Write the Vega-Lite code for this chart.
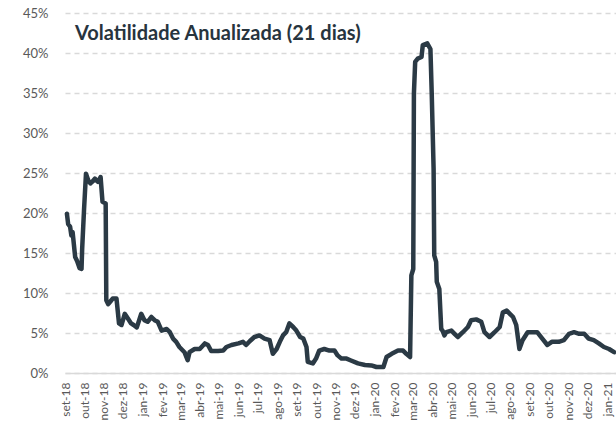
{
  "$schema": "https://vega.github.io/schema/vega-lite/v6.json",
  "autosize": "none",
  "width": 551,
  "height": 360,
  "padding": {"left": 65, "top": 13, "right": 0, "bottom": 50},
  "title": {"text": "Volatilidade Anualizada (21 dias)", "anchor": "start", "frame": "group", "offset": -37, "dx": 10, "font": "Lato", "fontSize": 20, "fontWeight": "bold", "color": "#27343E"},
  "config": {"view": {"stroke": null}},
  "data": {"values": [
    {"date": "2018-09-04", "vol": 0.199},
    {"date": "2018-09-06", "vol": 0.186},
    {"date": "2018-09-09", "vol": 0.183},
    {"date": "2018-09-11", "vol": 0.172},
    {"date": "2018-09-13", "vol": 0.176},
    {"date": "2018-09-17", "vol": 0.145},
    {"date": "2018-09-20", "vol": 0.140},
    {"date": "2018-09-24", "vol": 0.131},
    {"date": "2018-09-27", "vol": 0.130},
    {"date": "2018-09-28", "vol": 0.155},
    {"date": "2018-10-01", "vol": 0.205},
    {"date": "2018-10-04", "vol": 0.249},
    {"date": "2018-10-08", "vol": 0.240},
    {"date": "2018-10-11", "vol": 0.237},
    {"date": "2018-10-15", "vol": 0.240},
    {"date": "2018-10-18", "vol": 0.243},
    {"date": "2018-10-23", "vol": 0.239},
    {"date": "2018-10-27", "vol": 0.245},
    {"date": "2018-10-30", "vol": 0.214},
    {"date": "2018-11-04", "vol": 0.212},
    {"date": "2018-11-05", "vol": 0.091},
    {"date": "2018-11-08", "vol": 0.086},
    {"date": "2018-11-12", "vol": 0.090},
    {"date": "2018-11-15", "vol": 0.093},
    {"date": "2018-11-21", "vol": 0.093},
    {"date": "2018-11-25", "vol": 0.062},
    {"date": "2018-11-29", "vol": 0.060},
    {"date": "2018-12-04", "vol": 0.074},
    {"date": "2018-12-09", "vol": 0.068},
    {"date": "2018-12-14", "vol": 0.062},
    {"date": "2018-12-18", "vol": 0.060},
    {"date": "2018-12-23", "vol": 0.057},
    {"date": "2018-12-30", "vol": 0.074},
    {"date": "2019-01-04", "vol": 0.066},
    {"date": "2019-01-09", "vol": 0.064},
    {"date": "2019-01-15", "vol": 0.070},
    {"date": "2019-01-20", "vol": 0.066},
    {"date": "2019-01-25", "vol": 0.064},
    {"date": "2019-01-31", "vol": 0.053},
    {"date": "2019-02-08", "vol": 0.055},
    {"date": "2019-02-13", "vol": 0.051},
    {"date": "2019-02-18", "vol": 0.043},
    {"date": "2019-02-23", "vol": 0.039},
    {"date": "2019-02-28", "vol": 0.0325},
    {"date": "2019-03-08", "vol": 0.026},
    {"date": "2019-03-13", "vol": 0.016},
    {"date": "2019-03-16", "vol": 0.026},
    {"date": "2019-03-24", "vol": 0.030},
    {"date": "2019-04-01", "vol": 0.030},
    {"date": "2019-04-09", "vol": 0.037},
    {"date": "2019-04-14", "vol": 0.035},
    {"date": "2019-04-19", "vol": 0.0275},
    {"date": "2019-04-30", "vol": 0.0275},
    {"date": "2019-05-08", "vol": 0.028},
    {"date": "2019-05-13", "vol": 0.0325},
    {"date": "2019-05-21", "vol": 0.035},
    {"date": "2019-06-01", "vol": 0.037},
    {"date": "2019-06-08", "vol": 0.039},
    {"date": "2019-06-13", "vol": 0.035},
    {"date": "2019-06-19", "vol": 0.040},
    {"date": "2019-06-26", "vol": 0.045},
    {"date": "2019-07-04", "vol": 0.047},
    {"date": "2019-07-12", "vol": 0.043},
    {"date": "2019-07-20", "vol": 0.041},
    {"date": "2019-07-25", "vol": 0.024},
    {"date": "2019-07-31", "vol": 0.030},
    {"date": "2019-08-05", "vol": 0.039},
    {"date": "2019-08-10", "vol": 0.047},
    {"date": "2019-08-15", "vol": 0.051},
    {"date": "2019-08-20", "vol": 0.062},
    {"date": "2019-08-26", "vol": 0.0575},
    {"date": "2019-08-31", "vol": 0.053},
    {"date": "2019-09-06", "vol": 0.045},
    {"date": "2019-09-11", "vol": 0.043},
    {"date": "2019-09-16", "vol": 0.0325},
    {"date": "2019-09-18", "vol": 0.014},
    {"date": "2019-09-26", "vol": 0.012},
    {"date": "2019-10-01", "vol": 0.018},
    {"date": "2019-10-06", "vol": 0.028},
    {"date": "2019-10-14", "vol": 0.030},
    {"date": "2019-10-22", "vol": 0.028},
    {"date": "2019-10-30", "vol": 0.028},
    {"date": "2019-11-04", "vol": 0.022},
    {"date": "2019-11-10", "vol": 0.018},
    {"date": "2019-11-18", "vol": 0.018},
    {"date": "2019-11-24", "vol": 0.016},
    {"date": "2019-12-06", "vol": 0.012},
    {"date": "2019-12-17", "vol": 0.010},
    {"date": "2019-12-27", "vol": 0.0095},
    {"date": "2020-01-04", "vol": 0.0075},
    {"date": "2020-01-15", "vol": 0.0075},
    {"date": "2020-01-20", "vol": 0.020},
    {"date": "2020-01-28", "vol": 0.024},
    {"date": "2020-02-07", "vol": 0.028},
    {"date": "2020-02-15", "vol": 0.028},
    {"date": "2020-02-20", "vol": 0.024},
    {"date": "2020-02-26", "vol": 0.020},
    {"date": "2020-02-28", "vol": 0.122},
    {"date": "2020-03-02", "vol": 0.130},
    {"date": "2020-03-03", "vol": 0.349},
    {"date": "2020-03-05", "vol": 0.389},
    {"date": "2020-03-09", "vol": 0.393},
    {"date": "2020-03-15", "vol": 0.395},
    {"date": "2020-03-17", "vol": 0.410},
    {"date": "2020-03-24", "vol": 0.412},
    {"date": "2020-03-29", "vol": 0.405},
    {"date": "2020-03-31", "vol": 0.351},
    {"date": "2020-04-03", "vol": 0.255},
    {"date": "2020-04-04", "vol": 0.147},
    {"date": "2020-04-07", "vol": 0.139},
    {"date": "2020-04-08", "vol": 0.114},
    {"date": "2020-04-12", "vol": 0.105},
    {"date": "2020-04-15", "vol": 0.055},
    {"date": "2020-04-17", "vol": 0.053},
    {"date": "2020-04-20", "vol": 0.047},
    {"date": "2020-04-23", "vol": 0.051},
    {"date": "2020-05-01", "vol": 0.053},
    {"date": "2020-05-06", "vol": 0.049},
    {"date": "2020-05-11", "vol": 0.045},
    {"date": "2020-05-19", "vol": 0.051},
    {"date": "2020-05-27", "vol": 0.0575},
    {"date": "2020-06-01", "vol": 0.066},
    {"date": "2020-06-09", "vol": 0.067},
    {"date": "2020-06-17", "vol": 0.064},
    {"date": "2020-06-22", "vol": 0.051},
    {"date": "2020-06-30", "vol": 0.045},
    {"date": "2020-07-08", "vol": 0.051},
    {"date": "2020-07-16", "vol": 0.0575},
    {"date": "2020-07-21", "vol": 0.076},
    {"date": "2020-07-27", "vol": 0.078},
    {"date": "2020-08-01", "vol": 0.074},
    {"date": "2020-08-06", "vol": 0.070},
    {"date": "2020-08-11", "vol": 0.060},
    {"date": "2020-08-16", "vol": 0.030},
    {"date": "2020-08-21", "vol": 0.041},
    {"date": "2020-08-29", "vol": 0.051},
    {"date": "2020-09-02", "vol": 0.051},
    {"date": "2020-09-13", "vol": 0.051},
    {"date": "2020-09-21", "vol": 0.043},
    {"date": "2020-09-29", "vol": 0.035},
    {"date": "2020-10-06", "vol": 0.039},
    {"date": "2020-10-17", "vol": 0.039},
    {"date": "2020-10-25", "vol": 0.041},
    {"date": "2020-11-02", "vol": 0.049},
    {"date": "2020-11-10", "vol": 0.051},
    {"date": "2020-11-18", "vol": 0.049},
    {"date": "2020-11-26", "vol": 0.049},
    {"date": "2020-12-03", "vol": 0.043},
    {"date": "2020-12-11", "vol": 0.041},
    {"date": "2020-12-19", "vol": 0.037},
    {"date": "2020-12-27", "vol": 0.0325},
    {"date": "2021-01-04", "vol": 0.030},
    {"date": "2021-01-12", "vol": 0.026}
  ]},
  "mark": {"type": "line", "color": "#2B3A45", "strokeWidth": 4.5, "strokeJoin": "round", "strokeCap": "round", "clip": false},
  "encoding": {
    "x": {
      "field": "date", "type": "temporal", "title": null,
      "scale": {"type": "utc", "domain": [{"year": 2018, "month": 9, "date": 1, "utc": true}, {"year": 2021, "month": 1, "date": 15, "utc": true}]},
      "axis": {
        "values": [
          {"year": 2018, "month": 9, "date": 1, "utc": true},
          {"year": 2018, "month": 10, "date": 1, "utc": true},
          {"year": 2018, "month": 11, "date": 1, "utc": true},
          {"year": 2018, "month": 12, "date": 1, "utc": true},
          {"year": 2019, "month": 1, "date": 1, "utc": true},
          {"year": 2019, "month": 2, "date": 1, "utc": true},
          {"year": 2019, "month": 3, "date": 1, "utc": true},
          {"year": 2019, "month": 4, "date": 1, "utc": true},
          {"year": 2019, "month": 5, "date": 1, "utc": true},
          {"year": 2019, "month": 6, "date": 1, "utc": true},
          {"year": 2019, "month": 7, "date": 1, "utc": true},
          {"year": 2019, "month": 8, "date": 1, "utc": true},
          {"year": 2019, "month": 9, "date": 1, "utc": true},
          {"year": 2019, "month": 10, "date": 1, "utc": true},
          {"year": 2019, "month": 11, "date": 1, "utc": true},
          {"year": 2019, "month": 12, "date": 1, "utc": true},
          {"year": 2020, "month": 1, "date": 1, "utc": true},
          {"year": 2020, "month": 2, "date": 1, "utc": true},
          {"year": 2020, "month": 3, "date": 1, "utc": true},
          {"year": 2020, "month": 4, "date": 1, "utc": true},
          {"year": 2020, "month": 5, "date": 1, "utc": true},
          {"year": 2020, "month": 6, "date": 1, "utc": true},
          {"year": 2020, "month": 7, "date": 1, "utc": true},
          {"year": 2020, "month": 8, "date": 1, "utc": true},
          {"year": 2020, "month": 9, "date": 1, "utc": true},
          {"year": 2020, "month": 10, "date": 1, "utc": true},
          {"year": 2020, "month": 11, "date": 1, "utc": true},
          {"year": 2020, "month": 12, "date": 1, "utc": true},
          {"year": 2021, "month": 1, "date": 1, "utc": true}
        ],
        "labelExpr": "['jan','fev','mar','abr','mai','jun','jul','ago','set','out','nov','dez'][utcmonth(datum.value)] + '-' + utcFormat(datum.value, '%y')",
        "labelAngle": -90, "labelFlush": false, "labelOverlap": false,
        "labelPadding": 9, "labelFont": "Lato", "labelFontSize": 12, "labelColor": "#595959",
        "ticks": false, "grid": false, "domain": true, "domainColor": "#D9D9D9", "domainWidth": 1.5
      }
    },
    "y": {
      "field": "vol", "type": "quantitative", "title": null,
      "scale": {"domain": [0, 0.45], "nice": false},
      "axis": {
        "values": [0, 0.05, 0.1, 0.15, 0.2, 0.25, 0.3, 0.35, 0.4, 0.45],
        "format": ".0%", "labelFont": "Lato", "labelFontSize": 13, "labelColor": "#595959", "labelPadding": 17,
        "ticks": false, "domain": false, "grid": true, "gridColor": "#D9D9D9", "gridDash": [5, 4], "gridWidth": 1.5
      }
    }
  }
}
